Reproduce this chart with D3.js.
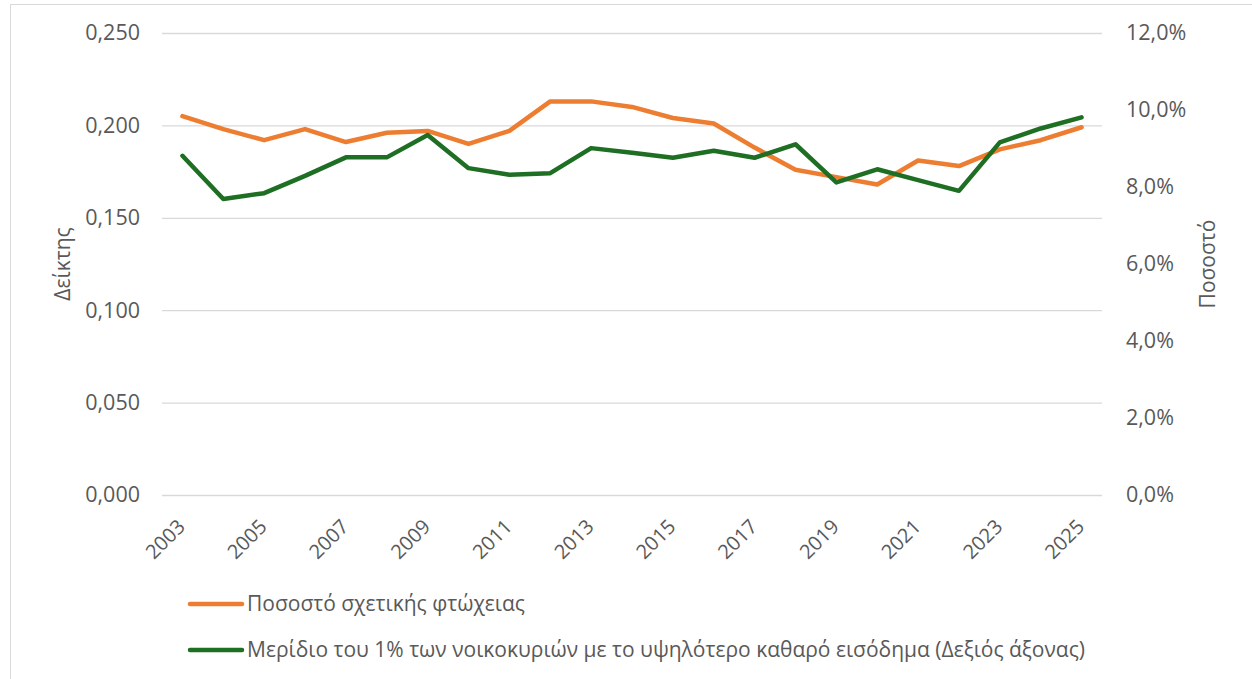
<!DOCTYPE html>
<html>
<head>
<meta charset="utf-8">
<script src="https://cdn.jsdelivr.net/npm/d3@7"></script>
<style>
    body { margin: 0; background: #fff; }
    svg text { font-family: "Open Sans", sans-serif; }
</style>
</head>
<body>
<div id="chart"></div>
<script>
// data
let years = d3.range(2003, 2026).map(String);

let poverty = [0.205, 0.198, 0.192, 0.198, 0.191, 0.196, 0.197, 0.190, 0.197, 0.213,
    0.213, 0.210, 0.204, 0.201, 0.188, 0.176, 0.172, 0.168, 0.181, 0.178,
    0.187, 0.192, 0.199];

let topShare = [0.0881, 0.0769, 0.0784, 0.0829, 0.0877, 0.0877, 0.0935, 0.0849, 0.0832, 0.0836,
    0.0901, 0.0889, 0.0876, 0.0894, 0.0876, 0.0911, 0.0812, 0.0846, 0.0818, 0.0790,
    0.0916, 0.0952, 0.0981];

let leftTicks = [0, 0.05, 0.10, 0.15, 0.20, 0.25];
let rightTicks = [0, 0.02, 0.04, 0.06, 0.08, 0.10, 0.12];

let seriesNames = ["Ποσοστό σχετικής φτώχειας",
    "Μερίδιο του 1% των νοικοκυριών με το υψηλότερο καθαρό εισόδημα (Δεξιός άξονας)"];
let seriesColors = ["#ED7D31", "#1E6E24"];

let width = 1252, height = 679;
let plot = {left: 162, right: 1102, top: 33, bottom: 495};
let textColor = "#595959";

let svg = d3.select("#chart").append("svg")
    .attr("width", width)
    .attr("height", height)
    .style("display", "block");

// chart frame (cut by the window)
svg.append("rect")
    .attr("x", 10.5).attr("y", 4.5)
    .attr("width", 1400).attr("height", 800)
    .attr("fill", "none")
    .attr("stroke", "#d9d9d9")
    .attr("stroke-width", 1);

let x = d3.scaleBand().domain(years).range([plot.left, plot.right]);
let yL = d3.scaleLinear().domain([0, 0.25]).range([plot.bottom, plot.top]);
let yR = d3.scaleLinear().domain([0, 0.12]).range([plot.bottom, plot.top]);

let fmtL = d => d3.format(".3f")(d).replace(".", ",");
let fmtR = d => d3.format(".1f")(d * 100).replace(".", ",") + "%";

// gridlines + left axis
let leftAxis = svg.append("g")
    .attr("transform", `translate(${plot.left},0)`)
    .call(d3.axisLeft(yL).tickValues(leftTicks).tickFormat(fmtL)
        .tickSize(-(plot.right - plot.left)).tickPadding(22));
leftAxis.select(".domain").remove();
leftAxis.selectAll("line").attr("stroke", "#d9d9d9").attr("stroke-width", 1.3);
leftAxis.selectAll("text").attr("fill", textColor).style("font-size", "21.5px");

// right axis
let rightAxis = svg.append("g")
    .attr("transform", `translate(${plot.right},0)`)
    .call(d3.axisRight(yR).tickValues(rightTicks).tickFormat(fmtR)
        .tickSize(0).tickPadding(24));
rightAxis.select(".domain").remove();
rightAxis.selectAll("text").attr("fill", textColor).style("font-size", "21.5px");

// bottom axis, every other year
let bottomAxis = svg.append("g")
    .attr("transform", `translate(0,${plot.bottom})`)
    .call(d3.axisBottom(x).tickValues(years.filter((d, i) => i % 2 === 0)).tickSize(0));
bottomAxis.select(".domain").remove();
bottomAxis.selectAll("text")
    .attr("fill", textColor)
    .style("font-size", "20px")
    .attr("text-anchor", "end")
    .attr("x", 0)
    .attr("y", 0)
    .attr("dy", "0.35em")
    .attr("transform", "translate(-1,28) rotate(-45)");

// axis titles
svg.append("text")
    .attr("transform", `translate(70,${(plot.top + plot.bottom) / 2}) rotate(-90)`)
    .attr("text-anchor", "middle")
    .attr("fill", textColor)
    .style("font-size", "21px")
    .text("Δείκτης");

svg.append("text")
    .attr("transform", `translate(1215,${(plot.top + plot.bottom) / 2}) rotate(-90)`)
    .attr("text-anchor", "middle")
    .attr("fill", textColor)
    .style("font-size", "21px")
    .text("Ποσοστό");

// lines
let cx = d => x(d) + x.bandwidth() / 2;

let lineL = d3.line().x((d, i) => cx(years[i])).y(d => yL(d));
let lineR = d3.line().x((d, i) => cx(years[i])).y(d => yR(d));

svg.append("path")
    .datum(poverty)
    .attr("d", lineL)
    .attr("fill", "none")
    .attr("stroke", seriesColors[0])
    .attr("stroke-width", 4.5)
    .attr("stroke-linejoin", "round")
    .attr("stroke-linecap", "round");

svg.append("path")
    .datum(topShare)
    .attr("d", lineR)
    .attr("fill", "none")
    .attr("stroke", seriesColors[1])
    .attr("stroke-width", 4.5)
    .attr("stroke-linejoin", "round")
    .attr("stroke-linecap", "round");

// legend
let legend = svg.append("g")
    .selectAll("g")
    .data(seriesNames)
    .join("g")
    .attr("transform", (d, i) => `translate(190,${604 + i * 46})`);

legend.append("line")
    .attr("x1", 0).attr("x2", 52)
    .attr("stroke", (d, i) => seriesColors[i])
    .attr("stroke-width", 4.5)
    .attr("stroke-linecap", "round");

legend.append("text")
    .attr("x", 57)
    .attr("dy", "0.35em")
    .attr("fill", textColor)
    .style("font-size", "21px")
    .text(d => d);
</script>
</body>
</html>
